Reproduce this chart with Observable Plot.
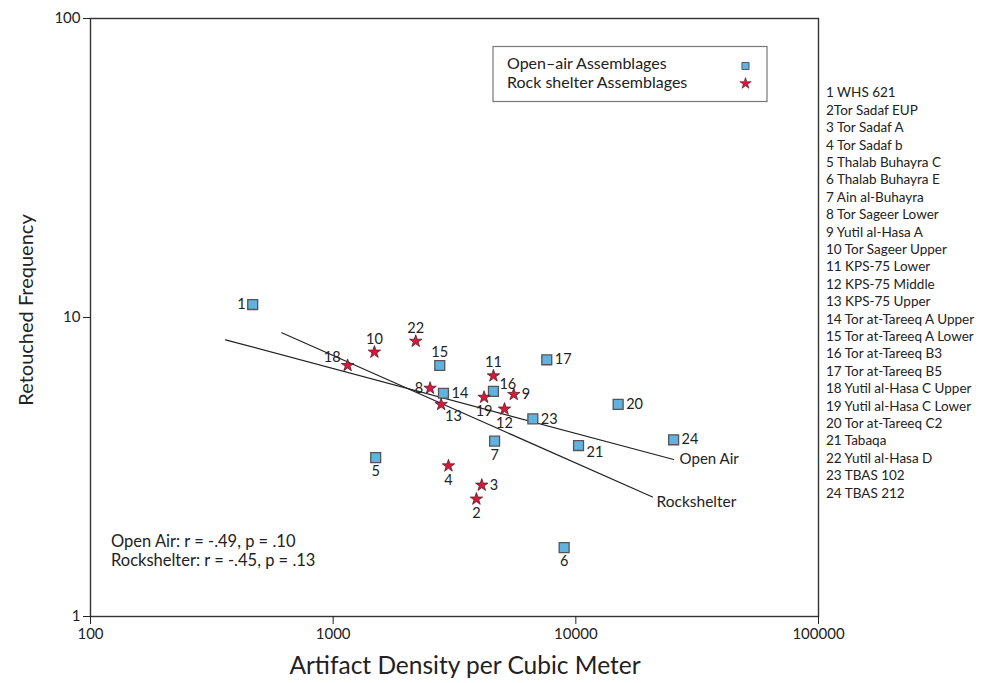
<!DOCTYPE html>
<html><head><meta charset="utf-8">
<script src="https://cdn.jsdelivr.net/npm/d3@7"></script>
<script src="https://cdn.jsdelivr.net/npm/@observablehq/plot@0.6"></script>
<style>body{margin:0;background:#fff;} svg{display:block}</style>
</head><body><div id="chart"></div>
<script>
// ---- data ----
const ids = [1,2,3,4,5,6,7,8,9,10,11,12,13,14,15,16,17,18,19,20,21,22,23,24];
const names = ["WHS 621","Tor Sadaf EUP","Tor Sadaf A","Tor Sadaf b","Thalab Buhayra C","Thalab Buhayra E","Ain al-Buhayra","Tor Sageer Lower","Yutil al-Hasa A","Tor Sageer Upper","KPS-75 Lower","KPS-75 Middle","KPS-75 Upper","Tor at-Tareeq A Upper","Tor at-Tareeq A Lower","Tor at-Tareeq B3","Tor at-Tareeq B5","Yutil al-Hasa C Upper","Yutil al-Hasa C Lower","Tor at-Tareeq C2","Tabaqa","Yutil al-Hasa D","TBAS 102","TBAS 212"];
const legendNames = ["1 WHS 621","2Tor Sadaf EUP","3 Tor Sadaf A","4 Tor Sadaf b","5 Thalab Buhayra C","6 Thalab Buhayra E","7 Ain al-Buhayra","8 Tor Sageer Lower","9 Yutil al-Hasa A","10 Tor Sageer Upper","11 KPS-75 Lower","12 KPS-75 Middle","13 KPS-75 Upper","14 Tor at-Tareeq A Upper","15 Tor at-Tareeq A Lower","16 Tor at-Tareeq B3","17 Tor at-Tareeq B5","18 Yutil al-Hasa C Upper","19 Yutil al-Hasa C Lower","20 Tor at-Tareeq C2","21 Tabaqa","22 Yutil al-Hasa D","23 TBAS 102","24 TBAS 212"];
const density = [466,3893,4096,2986,1497,8950,4626,2508,5550,1479,4576,5083,2785,2848,2750,4576,7590,1147,4188,14940,10260,2189,6650,25290];
const retouched = [11.05,2.47,2.75,3.19,3.40,1.70,3.86,5.80,5.53,7.66,6.38,4.94,5.12,5.58,6.91,5.66,7.22,6.91,5.41,5.12,3.73,8.33,4.58,3.90];
const siteType = ["open","rock","rock","rock","open","open","open","rock","rock","rock","rock","rock","rock","open","open","open","open","rock","rock","open","open","rock","open","open"];
const openAirFit = {x:[360,25290], y:[8.42,3.35]};
const rockshelterFit = {x:[614,20700], y:[8.89,2.51]};
const xTicks = [100,1000,10000,100000];
const yTicks = [1,10,100];
const statsLines = ["Open Air: r = -.49, p = .10","Rockshelter: r = -.45, p = .13"];

// label placement (style)
const labelDir = {1:"l",2:"b",3:"r",4:"b",5:"b",6:"b",7:"b",8:"l",9:"r",10:"a",11:"a",12:"b",13:"br",14:"r",15:"a",16:"ar",17:"r",18:"al",19:"b",20:"r",21:"br2",22:"a",23:"r",24:"r"};
const dirStyle = {
  l:{dx:-7,dy:0,textAnchor:"end"}, r:{dx:8,dy:0,textAnchor:"start"},
  b:{dx:0,dy:14,textAnchor:"middle"}, a:{dx:0,dy:-13,textAnchor:"middle"},
  br:{dx:4,dy:12,textAnchor:"start"}, br2:{dx:8,dy:7,textAnchor:"start"},
  ar:{dx:6,dy:-7,textAnchor:"start"}, al:{dx:-7,dy:-8,textAnchor:"end"}
};

const rows = ids.map((id,i)=>({id, name:names[i], x:density[i], y:retouched[i], type:siteType[i]}));
const fitRows = (f)=>f.x.map((x,i)=>({x, y:f.y[i]}));
const openLine = fitRows(openAirFit), rockLine = fitRows(rockshelterFit);

const FONT = "Lato, 'Open Sans', sans-serif";
const labelMarks = Object.keys(dirStyle).map(k=>Plot.text(rows.filter(r=>labelDir[r.id]===k), {
  x:"x", y:"y", text:d=>String(d.id), ...dirStyle[k], fontSize:14.5, fill:"#222"}));

const plot = Plot.plot({
  width: 989, height: 683,
  marginLeft: 90, marginRight: 171, marginTop: 18, marginBottom: 67,
  x: {type:"log", domain:[100,100000]},
  y: {type:"log", domain:[1,100]},
  style: {fontFamily: FONT, fontSize:"14px", color:"#222", background:"#fff"},
  marks: [
    Plot.frame({stroke:"#333", strokeWidth:1.4}),
    Plot.axisX({ticks:xTicks, tickFormat:d3.format("d"), tickSize:8, tickPadding:4, label:null, fontSize:15}),
    Plot.axisY({ticks:yTicks, tickFormat:d3.format("d"), tickSize:7, tickPadding:3, label:null, fontSize:15}),
    Plot.line(openLine, {x:"x", y:"y", stroke:"#222", strokeWidth:1.2}),
    Plot.line(rockLine, {x:"x", y:"y", stroke:"#222", strokeWidth:1.2}),
    Plot.text(openLine.slice(-1), {x:"x", y:"y", text:()=>"Open Air", dx:6, textAnchor:"start", fontSize:15, fill:"#222"}),
    Plot.text(rockLine.slice(-1), {x:"x", y:"y", text:()=>"Rockshelter", dx:4, dy:5, textAnchor:"start", fontSize:15.5, fill:"#222"}),
    Plot.dot(rows.filter(r=>r.type==="open"), {x:"x", y:"y", symbol:"square", r:5.6, fill:"#62b2e0", stroke:"#555", strokeWidth:1.3}),
    Plot.dot(rows.filter(r=>r.type==="rock"), {x:"x", y:"y", symbol:"star", r:3.9, fill:"#d8193c", stroke:"#5a1a26", strokeWidth:0.8}),
    ...labelMarks
  ]
});

const svg = d3.select(plot);
const addText = (sel, x, y, txt, size, anchor="start") => sel.append("text").attr("x",x).attr("y",y)
  .attr("text-anchor",anchor).attr("dominant-baseline","middle").attr("font-family",FONT)
  .attr("font-size",size).attr("fill","#222").text(txt);
// axis titles
addText(svg, 465, 668, "Artifact Density per Cubic Meter", 24.5, "middle");
svg.append("text").attr("transform","translate(28,310) rotate(-90)").attr("text-anchor","middle").attr("dominant-baseline","middle")
  .attr("font-family",FONT).attr("font-size",20).attr("fill","#222").text("Retouched Frequency");
// legend box
const lg = svg.append("g");
lg.append("rect").attr("x",493).attr("y",46.5).attr("width",274).attr("height",55).attr("fill","#fff").attr("stroke","#777").attr("stroke-width",1.2);
addText(lg, 507, 65, "Open\u2013air Assemblages", 16);
addText(lg, 507, 84, "Rock shelter Assemblages", 16);
lg.append("path").attr("transform","translate(745.5,66)").attr("d",d3.symbol(d3.symbolSquare, 50)()).attr("fill","#62b2e0").attr("stroke","#555").attr("stroke-width",1);
lg.append("path").attr("transform","translate(745.5,83.5)").attr("d",d3.symbol(d3.symbolStar, 40)()).attr("fill","#d8193c").attr("stroke","#5a1a26").attr("stroke-width",0.6);
// stats
statsLines.forEach((t,i)=>addText(svg, 111, 543+i*19, t, 16.5));
// site list
legendNames.forEach((t,i)=>addText(svg, 826, 94+i*17.4, t, 13.5));

document.getElementById("chart").appendChild(plot);
</script></body></html>
